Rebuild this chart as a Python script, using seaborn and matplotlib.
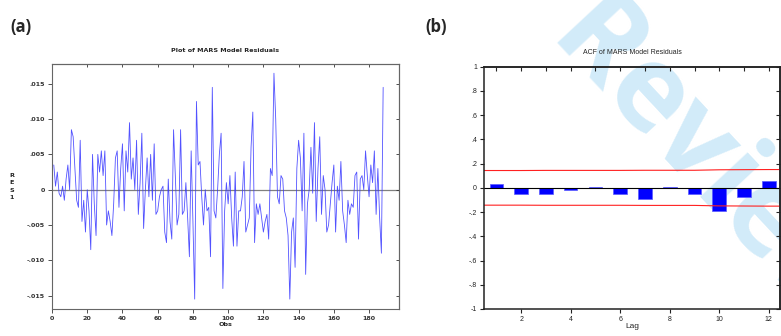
import numpy as np
import pandas as pd
import seaborn as sns
import matplotlib.pyplot as plt
from matplotlib.ticker import FuncFormatter, MultipleLocator

# -----------------------------
# Data
# -----------------------------
res_part1 = [0.0035, 0.0005, 0.0025, -0.0005, -0.001, 0.0005, -0.0015, 0.0015, 0.0035, 0.0,
             0.0085, 0.0075, 0.003, -0.0015, -0.0025, 0.007, -0.0045, -0.0015, -0.006, 0.0,
             -0.003, -0.0085, 0.005, -0.002, -0.0065, 0.005, 0.0025, 0.0055, 0.002, 0.0055,
             -0.005, -0.003, -0.0045, -0.0065, -0.002, 0.0045, 0.0055, -0.0025, 0.003, 0.0065,
             -0.003, 0.0055, 0.0025, 0.0095, 0.0015, 0.0045, 0.0, 0.007, -0.0035, 0.001,
             0.008, -0.0055, 0.0, 0.0045, -0.001, 0.005, -0.0015, 0.0065, -0.0035, -0.003,
             -0.001, 0.0, 0.0005, -0.006, -0.0075, 0.0015, -0.0045, -0.007, 0.0085, 0.002,
             -0.005, -0.0035, 0.0085, -0.0035, -0.003, 0.001, -0.004, -0.0095, 0.0055, -0.0045,
             -0.0155, 0.0125, 0.0035]
res_part2 = [0.004, -0.001, -0.005, 0.0, -0.003, -0.0025, -0.0095, 0.0145, -0.003, -0.004,
             0.0, 0.005, 0.008, -0.014, -0.003, 0.001, -0.002, 0.002, -0.004, -0.008,
             0.0025, -0.008, -0.003, -0.003, -0.001, 0.004, -0.006, -0.005, -0.004, 0.006,
             0.011, -0.0075, -0.002, -0.0035, -0.002, -0.004, -0.006, -0.0045, -0.0035, -0.007,
             0.003, 0.002, 0.0165, 0.01, -0.001, -0.002, 0.002, 0.0015, -0.003, -0.004,
             -0.0065, -0.0155, -0.006, -0.004, -0.011, 0.003, 0.007, 0.0045, -0.003, 0.008,
             -0.012, -0.002, 0.0, 0.006, -0.0005, 0.0095, -0.0045, 0.003, 0.0075, -0.0035,
             0.002, 0.0, -0.006, -0.005, -0.002, 0.001, 0.0035, -0.006, 0.0005, -0.0015,
             0.004, -0.003, -0.005, -0.0075, -0.0015, -0.0035, -0.002, -0.0025, 0.002, 0.0025,
             -0.007, 0.0015, 0.002, 0.0, 0.0055, 0.002, -0.001, 0.0035, 0.001, 0.0055,
             -0.0035, 0.003, -0.004, -0.009, 0.0145]
residuals = res_part1 + res_part2
obs = list(range(1, len(residuals) + 1))

lags = list(range(1, 13))
acf_vals = [0.03, -0.05, -0.05, -0.015, 0.01, -0.052, -0.093, 0.01, -0.05, -0.19, -0.075, 0.058]
band_lags = list(range(0, 14))
band_upper = [0.143, 0.143, 0.143, 0.144, 0.144, 0.144, 0.144, 0.145, 0.145, 0.145,
              0.149, 0.150, 0.151, 0.151]
band_lower = [-b for b in band_upper]

# -----------------------------
# Figure
# -----------------------------
sns.set_style("ticks")
fig = plt.figure(figsize=(7.81, 3.36), dpi=100)

# watermark behind everything (cut by the page edge, as in the source)
fig.text(0.908, 0.482, "Review", rotation=-47, rotation_mode="anchor",
         ha="center", va="center", fontsize=85, fontweight="bold",
         family="Open Sans", color="#d2ebf9", zorder=-5)

ax1 = fig.add_axes([0.0666, 0.0804, 0.4443, 0.729])
ax2 = fig.add_axes([0.6197, 0.0804, 0.3790, 0.7211])
for ax in (ax1, ax2):
    ax.patch.set_alpha(0)

# --- (a) residual plot ---
bold = dict(family="DejaVu Sans", fontweight="bold", fontsize=4.6)
sns.lineplot(x=obs, y=residuals, ax=ax1, color="#3434ff", lw=0.6, alpha=0.85)
ax1.axhline(0, color="#808080", lw=0.9, zorder=0)
ax1.set_xlim(0, 197)
ax1.set_ylim(-0.0169, 0.0178)
ax1.xaxis.set_major_locator(MultipleLocator(20))
ax1.yaxis.set_major_locator(MultipleLocator(0.005))
ax1.xaxis.set_major_formatter(FuncFormatter(lambda v, _: f"{v:.0f}"))
ax1.yaxis.set_major_formatter(FuncFormatter(
    lambda v, _: "0" if abs(v) < 1e-9 else f"{v:.3f}".replace("0.", ".")))
ax1.tick_params(length=3, width=0.6, colors="#333333", pad=2)
for lab in ax1.get_xticklabels() + ax1.get_yticklabels():
    lab.set(**bold)
top1 = ax1.secondary_xaxis("top")
top1.xaxis.set_major_locator(MultipleLocator(20))
top1.tick_params(direction="in", length=2.5, width=0.6, colors="#333333", labeltop=False)
right1 = ax1.secondary_yaxis("right")
right1.yaxis.set_major_locator(MultipleLocator(0.005))
right1.tick_params(direction="in", length=2.5, width=0.6, colors="#333333", labelright=False)
for s in list(ax1.spines.values()) + [top1.spines["top"], right1.spines["right"]]:
    s.set_color("#666666")
    s.set_linewidth(0.8)
ax1.set_title("Plot of MARS Model Residuals", pad=9, **bold)
ax1.set_xlabel("Obs", labelpad=1, **bold)
ax1.set_ylabel("R\nE\nS\n1", rotation=0, labelpad=11, va="center", linespacing=1.6, **bold)

# --- (b) ACF plot ---
reg = dict(family="Liberation Sans", fontsize=5)
sns.barplot(x=lags, y=acf_vals, ax=ax2, native_scale=True, width=0.55,
            color="#0000ff", saturation=1, edgecolor="#5a5aff", linewidth=0.5)
sns.lineplot(x=band_lags, y=band_upper, ax=ax2, color="#ff2020", lw=0.8)
sns.lineplot(x=band_lags, y=band_lower, ax=ax2, color="#ff2020", lw=0.8)
ax2.axhline(0, color="black", lw=0.8, zorder=1)
ax2.set_xlim(0.5, 12.45)
ax2.set_ylim(-1, 1)
ax2.set_xticks([2, 4, 6, 8, 10, 12])
ax2.yaxis.set_major_locator(MultipleLocator(0.2))
ax2.yaxis.set_major_formatter(FuncFormatter(
    lambda v, _: "0" if abs(v) < 1e-9 else (f"{v:.0f}" if abs(abs(v) - 1) < 1e-9
                                             else f"{v:.1f}".replace("0.", "."))))
ax2.tick_params(length=3, width=0.8, colors="#222222", pad=2, labelsize=5)
for lab in ax2.get_xticklabels() + ax2.get_yticklabels():
    lab.set_family("Liberation Sans")
top = ax2.secondary_xaxis("top")
top.set_xticks(lags)
top.tick_params(direction="in", length=3, width=0.8, labeltop=False)
right = ax2.secondary_yaxis("right")
right.set_yticks(np.arange(-1, 1.01, 0.2))
right.tick_params(direction="in", length=3, width=0.8, labelright=False)
for s in list(ax2.spines.values()) + [top.spines["top"], right.spines["right"]]:
    s.set_color("#222222")
    s.set_linewidth(1.1)
ax2.set_title("ACF of MARS Model Residuals", pad=9, **reg)
ax2.set_xlabel("Lag", labelpad=0, family="Liberation Sans", fontsize=6)
ax2.set_ylabel("")

# panel letters
fig.text(0.013, 0.905, "(a)", family="Open Sans", fontweight="bold", fontsize=12)
fig.text(0.545, 0.905, "(b)", family="Open Sans", fontweight="bold", fontsize=12)

fig.savefig("out.png", dpi=100)
